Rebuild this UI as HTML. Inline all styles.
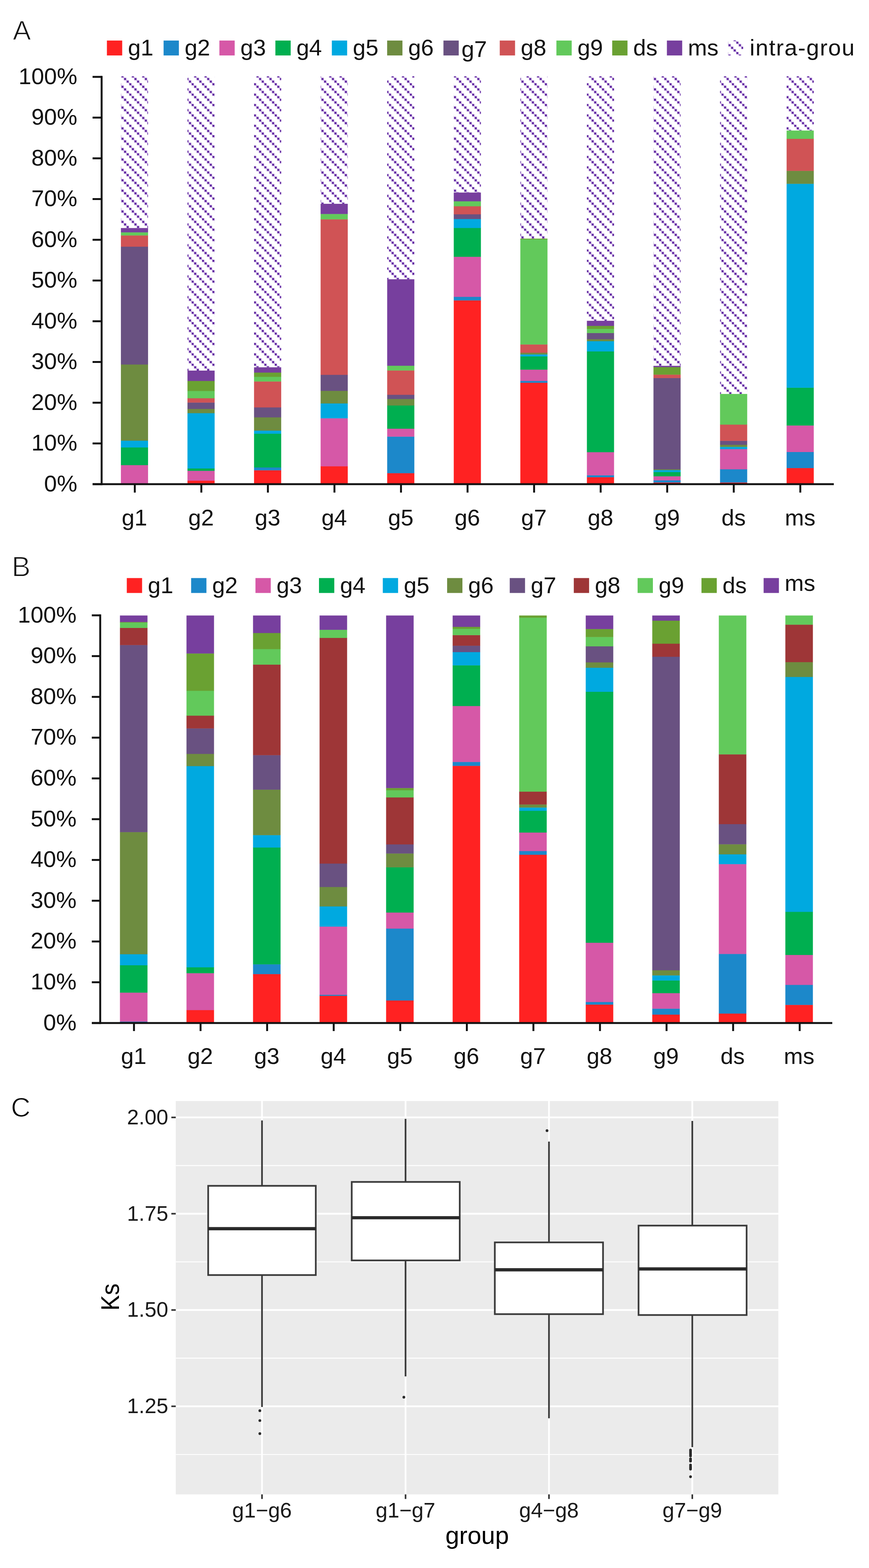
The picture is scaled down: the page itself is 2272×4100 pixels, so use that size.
<!DOCTYPE html><html><head><meta charset="utf-8"><title>Figure</title><style>html,body{margin:0;padding:0;background:#fff;width:2272px;height:4100px;overflow:hidden}svg{display:block}text{font-family:'Liberation Sans',Arial,sans-serif}</style></head><body>
<svg width="2272" height="4100" viewBox="0 0 2272 4100">
<defs><pattern id="h" patternUnits="userSpaceOnUse" width="27.164" height="27.164" x="11.75" y="0"><path d="M-3,-3 L30.164,30.164 M-30.164,-3 L3,30.164 M24.164,-3 L57.328,30.164" stroke="#CDB5E6" stroke-width="2.6" fill="none"/><rect x="-0.6" y="-0.6" width="7" height="7" fill="#C4A8E0"/><rect x="6.191" y="6.191" width="7" height="7" fill="#C4A8E0"/><rect x="12.982" y="12.982" width="7" height="7" fill="#C4A8E0"/><rect x="19.773" y="19.773" width="7" height="7" fill="#C4A8E0"/><rect x="26.564" y="26.564" width="7" height="7" fill="#C4A8E0"/><rect x="-7.391" y="-7.391" width="7" height="7" fill="#C4A8E0"/><rect x="0.5" y="0.5" width="4.8" height="4.8" fill="#5A1F9C"/><rect x="7.291" y="7.291" width="4.8" height="4.8" fill="#5A1F9C"/><rect x="14.082" y="14.082" width="4.8" height="4.8" fill="#5A1F9C"/><rect x="20.873" y="20.873" width="4.8" height="4.8" fill="#5A1F9C"/><rect x="27.664" y="27.664" width="4.8" height="4.8" fill="#5A1F9C"/><rect x="-6.291" y="-6.291" width="4.8" height="4.8" fill="#5A1F9C"/></pattern><pattern id="h2" patternUnits="userSpaceOnUse" width="27.164" height="27.164" x="23.34" y="0"><path d="M-3,-3 L30.164,30.164 M-30.164,-3 L3,30.164 M24.164,-3 L57.328,30.164" stroke="#CDB5E6" stroke-width="2.6" fill="none"/><rect x="-0.6" y="-0.6" width="7" height="7" fill="#C4A8E0"/><rect x="6.191" y="6.191" width="7" height="7" fill="#C4A8E0"/><rect x="12.982" y="12.982" width="7" height="7" fill="#C4A8E0"/><rect x="19.773" y="19.773" width="7" height="7" fill="#C4A8E0"/><rect x="26.564" y="26.564" width="7" height="7" fill="#C4A8E0"/><rect x="-7.391" y="-7.391" width="7" height="7" fill="#C4A8E0"/><rect x="0.5" y="0.5" width="4.8" height="4.8" fill="#5A1F9C"/><rect x="7.291" y="7.291" width="4.8" height="4.8" fill="#5A1F9C"/><rect x="14.082" y="14.082" width="4.8" height="4.8" fill="#5A1F9C"/><rect x="20.873" y="20.873" width="4.8" height="4.8" fill="#5A1F9C"/><rect x="27.664" y="27.664" width="4.8" height="4.8" fill="#5A1F9C"/><rect x="-6.291" y="-6.291" width="4.8" height="4.8" fill="#5A1F9C"/></pattern></defs>
<rect width="2272" height="4100" fill="#fff"/>
<rect x="316.1" y="199.5" width="71" height="396.8" fill="url(#h)"/>
<rect x="316.1" y="1215.9" width="71" height="50.5" fill="#D658A7"/>
<rect x="316.1" y="1169.7" width="71" height="46.6" fill="#00AF50"/>
<rect x="316.1" y="1152" width="71" height="18.1" fill="#00A9E0"/>
<rect x="316.1" y="952.8" width="71" height="199.6" fill="#6E8C40"/>
<rect x="316.1" y="644.7" width="71" height="308.5" fill="#695181"/>
<rect x="316.1" y="615.3" width="71" height="29.8" fill="#D05355"/>
<rect x="316.1" y="607.2" width="71" height="8.5" fill="#62C95B"/>
<rect x="316.1" y="596.3" width="71" height="11.3" fill="#773F9E"/>
<rect x="490.15" y="199.5" width="71" height="769.5" fill="url(#h)"/>
<rect x="490.15" y="1256.6" width="71" height="9.8" fill="#FF2222"/>
<rect x="490.15" y="1230.8" width="71" height="26.2" fill="#D658A7"/>
<rect x="490.15" y="1224.6" width="71" height="6.6" fill="#00AF50"/>
<rect x="490.15" y="1080" width="71" height="145" fill="#00A9E0"/>
<rect x="490.15" y="1069" width="71" height="11.4" fill="#6E8C40"/>
<rect x="490.15" y="1052.3" width="71" height="17.1" fill="#695181"/>
<rect x="490.15" y="1041" width="71" height="11.7" fill="#D05355"/>
<rect x="490.15" y="1022" width="71" height="19.4" fill="#62C95B"/>
<rect x="490.15" y="995.8" width="71" height="26.6" fill="#6AA132"/>
<rect x="490.15" y="969" width="71" height="27.2" fill="#773F9E"/>
<rect x="664.2" y="199.5" width="71" height="760.9" fill="url(#h)"/>
<rect x="664.2" y="1229.4" width="71" height="37" fill="#FF2222"/>
<rect x="664.2" y="1222" width="71" height="7.8" fill="#1C88CA"/>
<rect x="664.2" y="1133.8" width="71" height="88.6" fill="#00AF50"/>
<rect x="664.2" y="1125.7" width="71" height="8.5" fill="#00A9E0"/>
<rect x="664.2" y="1091" width="71" height="35.1" fill="#6E8C40"/>
<rect x="664.2" y="1065" width="71" height="26.4" fill="#695181"/>
<rect x="664.2" y="997.2" width="71" height="68.2" fill="#D05355"/>
<rect x="664.2" y="985" width="71" height="12.6" fill="#62C95B"/>
<rect x="664.2" y="973.9" width="71" height="11.5" fill="#6AA132"/>
<rect x="664.2" y="960.4" width="71" height="13.9" fill="#773F9E"/>
<rect x="838.25" y="199.5" width="71" height="333.4" fill="url(#h)"/>
<rect x="838.25" y="1219" width="71" height="47.4" fill="#FF2222"/>
<rect x="838.25" y="1093.4" width="71" height="126" fill="#D658A7"/>
<rect x="838.25" y="1054.6" width="71" height="39.2" fill="#00A9E0"/>
<rect x="838.25" y="1021.7" width="71" height="33.3" fill="#6E8C40"/>
<rect x="838.25" y="979.8" width="71" height="42.3" fill="#695181"/>
<rect x="838.25" y="573.2" width="71" height="407" fill="#D05355"/>
<rect x="838.25" y="559.2" width="71" height="14.4" fill="#62C95B"/>
<rect x="838.25" y="532.9" width="71" height="26.7" fill="#773F9E"/>
<rect x="1012.3" y="199.5" width="71" height="530.7" fill="url(#h)"/>
<rect x="1012.3" y="1237" width="71" height="29.4" fill="#FF2222"/>
<rect x="1012.3" y="1141.4" width="71" height="96" fill="#1C88CA"/>
<rect x="1012.3" y="1120.6" width="71" height="21.2" fill="#D658A7"/>
<rect x="1012.3" y="1060" width="71" height="61" fill="#00AF50"/>
<rect x="1012.3" y="1043" width="71" height="17.4" fill="#6E8C40"/>
<rect x="1012.3" y="1032" width="71" height="11.4" fill="#695181"/>
<rect x="1012.3" y="968.4" width="71" height="64" fill="#D05355"/>
<rect x="1012.3" y="956" width="71" height="12.8" fill="#62C95B"/>
<rect x="1012.3" y="730.2" width="71" height="226.2" fill="#773F9E"/>
<rect x="1186.35" y="199.5" width="71" height="304" fill="url(#h)"/>
<rect x="1186.35" y="785.2" width="71" height="481.2" fill="#FF2222"/>
<rect x="1186.35" y="775.9" width="71" height="9.7" fill="#1C88CA"/>
<rect x="1186.35" y="671.2" width="71" height="105.1" fill="#D658A7"/>
<rect x="1186.35" y="595.8" width="71" height="75.8" fill="#00AF50"/>
<rect x="1186.35" y="572.5" width="71" height="23.7" fill="#00A9E0"/>
<rect x="1186.35" y="560" width="71" height="12.9" fill="#695181"/>
<rect x="1186.35" y="539" width="71" height="21.4" fill="#D05355"/>
<rect x="1186.35" y="526" width="71" height="13.4" fill="#62C95B"/>
<rect x="1186.35" y="503.5" width="71" height="22.9" fill="#773F9E"/>
<rect x="1360.4" y="199.5" width="71" height="424.4" fill="url(#h)"/>
<rect x="1360.4" y="1000.5" width="71" height="265.9" fill="#FF2222"/>
<rect x="1360.4" y="995.8" width="71" height="5.1" fill="#1C88CA"/>
<rect x="1360.4" y="966.2" width="71" height="30" fill="#D658A7"/>
<rect x="1360.4" y="931.6" width="71" height="35" fill="#00AF50"/>
<rect x="1360.4" y="926.4" width="71" height="5.6" fill="#00A9E0"/>
<rect x="1360.4" y="922" width="71" height="4.8" fill="#6E8C40"/>
<rect x="1360.4" y="900.4" width="71" height="22" fill="#D05355"/>
<rect x="1360.4" y="625.5" width="71" height="275.3" fill="#62C95B"/>
<rect x="1360.4" y="623.9" width="71" height="2" fill="#6AA132"/>
<rect x="1534.45" y="199.5" width="71" height="639.3" fill="url(#h)"/>
<rect x="1534.45" y="1247.6" width="71" height="18.8" fill="#FF2222"/>
<rect x="1534.45" y="1242.4" width="71" height="5.6" fill="#1C88CA"/>
<rect x="1534.45" y="1182" width="71" height="60.8" fill="#D658A7"/>
<rect x="1534.45" y="918.6" width="71" height="263.8" fill="#00AF50"/>
<rect x="1534.45" y="891.8" width="71" height="27.2" fill="#00A9E0"/>
<rect x="1534.45" y="886.6" width="71" height="5.6" fill="#6E8C40"/>
<rect x="1534.45" y="870.5" width="71" height="16.5" fill="#695181"/>
<rect x="1534.45" y="859.6" width="71" height="11.3" fill="#62C95B"/>
<rect x="1534.45" y="851.8" width="71" height="8.2" fill="#6AA132"/>
<rect x="1534.45" y="838.8" width="71" height="13.4" fill="#773F9E"/>
<rect x="1708.5" y="199.5" width="71" height="757.1" fill="url(#h)"/>
<rect x="1708.5" y="1261.4" width="71" height="5" fill="#FF2222"/>
<rect x="1708.5" y="1255.7" width="71" height="6.1" fill="#1C88CA"/>
<rect x="1708.5" y="1245.1" width="71" height="11" fill="#D658A7"/>
<rect x="1708.5" y="1234" width="71" height="11.5" fill="#00AF50"/>
<rect x="1708.5" y="1228.9" width="71" height="5.5" fill="#00A9E0"/>
<rect x="1708.5" y="1226.8" width="71" height="2.5" fill="#6E8C40"/>
<rect x="1708.5" y="988.1" width="71" height="239.1" fill="#695181"/>
<rect x="1708.5" y="979.3" width="71" height="9.2" fill="#D05355"/>
<rect x="1708.5" y="959.6" width="71" height="20.1" fill="#6AA132"/>
<rect x="1708.5" y="956.6" width="71" height="3.4" fill="#773F9E"/>
<rect x="1882.55" y="199.5" width="71" height="830.6" fill="url(#h)"/>
<rect x="1882.55" y="1261.4" width="71" height="5" fill="#FF2222"/>
<rect x="1882.55" y="1226.8" width="71" height="35" fill="#1C88CA"/>
<rect x="1882.55" y="1174" width="71" height="53.2" fill="#D658A7"/>
<rect x="1882.55" y="1168.3" width="71" height="6.1" fill="#00A9E0"/>
<rect x="1882.55" y="1162.8" width="71" height="5.9" fill="#6E8C40"/>
<rect x="1882.55" y="1152.3" width="71" height="10.9" fill="#695181"/>
<rect x="1882.55" y="1110" width="71" height="42.7" fill="#D05355"/>
<rect x="1882.55" y="1030.1" width="71" height="80.3" fill="#62C95B"/>
<rect x="2056.6" y="199.5" width="71" height="141.9" fill="url(#h)"/>
<rect x="2056.6" y="1223.6" width="71" height="42.8" fill="#FF2222"/>
<rect x="2056.6" y="1181.6" width="71" height="42.4" fill="#1C88CA"/>
<rect x="2056.6" y="1112.3" width="71" height="69.7" fill="#D658A7"/>
<rect x="2056.6" y="1013.5" width="71" height="99.2" fill="#00AF50"/>
<rect x="2056.6" y="480.3" width="71" height="533.6" fill="#00A9E0"/>
<rect x="2056.6" y="446.4" width="71" height="34.3" fill="#6E8C40"/>
<rect x="2056.6" y="362.7" width="71" height="84.1" fill="#D05355"/>
<rect x="2056.6" y="341.4" width="71" height="21.7" fill="#62C95B"/>
<g fill="#111">
<rect x="263.2" y="198.5" width="5" height="1070"/>
<rect x="242" y="1263.5" width="24" height="5"/>
<rect x="242" y="1157" width="24" height="5"/>
<rect x="242" y="1050.5" width="24" height="5"/>
<rect x="242" y="944" width="24" height="5"/>
<rect x="242" y="837.5" width="24" height="5"/>
<rect x="242" y="731" width="24" height="5"/>
<rect x="242" y="624.5" width="24" height="5"/>
<rect x="242" y="518" width="24" height="5"/>
<rect x="242" y="411.5" width="24" height="5"/>
<rect x="242" y="305" width="24" height="5"/>
<rect x="242" y="198.5" width="24" height="5"/>
<rect x="242" y="1263.5" width="1938" height="5"/>
<rect x="349.9" y="1266" width="5" height="22"/>
<rect x="523.9" y="1266" width="5" height="22"/>
<rect x="697.9" y="1266" width="5" height="22"/>
<rect x="871.9" y="1266" width="5" height="22"/>
<rect x="1045.9" y="1266" width="5" height="22"/>
<rect x="1219.9" y="1266" width="5" height="22"/>
<rect x="1393.9" y="1266" width="5" height="22"/>
<rect x="1567.9" y="1266" width="5" height="22"/>
<rect x="1741.9" y="1266" width="5" height="22"/>
<rect x="1915.9" y="1266" width="5" height="22"/>
<rect x="2089.9" y="1266" width="5" height="22"/>
</g>
<g font-size="60" fill="#111" text-anchor="end">
<text x="202" y="1284.5">0%</text>
<text x="202" y="1178">10%</text>
<text x="202" y="1071.5">20%</text>
<text x="202" y="965">30%</text>
<text x="202" y="858.5">40%</text>
<text x="202" y="752">50%</text>
<text x="202" y="645.5">60%</text>
<text x="202" y="539">70%</text>
<text x="202" y="432.5">80%</text>
<text x="202" y="326">90%</text>
<text x="202" y="219.5">100%</text>
</g>
<g font-size="60" fill="#111" text-anchor="middle">
<text x="351.6" y="1374">g1</text>
<text x="525.65" y="1374">g2</text>
<text x="699.7" y="1374">g3</text>
<text x="873.75" y="1374">g4</text>
<text x="1047.8" y="1374">g5</text>
<text x="1221.85" y="1374">g6</text>
<text x="1395.9" y="1374">g7</text>
<text x="1569.95" y="1374">g8</text>
<text x="1744" y="1374">g9</text>
<text x="1918.05" y="1374">ds</text>
<text x="2092.1" y="1374">ms</text>
</g>
<text x="33.5" y="103.6" font-size="71" fill="#111" stroke="#fff" stroke-width="1.6">A</text>
<g font-size="60" fill="#111">
<rect x="279.5" y="106" width="40" height="39" fill="#FF2222"/>
<text x="334.5" y="145">g1</text>
<rect x="427.7" y="106" width="40" height="39" fill="#1C88CA"/>
<text x="482.7" y="145">g2</text>
<rect x="573.6" y="106" width="40" height="39" fill="#D658A7"/>
<text x="628.6" y="145">g3</text>
<rect x="720" y="106" width="40" height="39" fill="#00AF50"/>
<text x="775" y="145">g4</text>
<rect x="867.6" y="106" width="40" height="39" fill="#00A9E0"/>
<text x="922.6" y="145">g5</text>
<rect x="1012.2" y="106" width="40" height="39" fill="#6E8C40"/>
<text x="1067.2" y="145">g6</text>
<rect x="1159.4" y="106" width="40" height="39" fill="#695181"/>
<text x="1206.4" y="149">g7</text>
<rect x="1306.6" y="106" width="40" height="39" fill="#D05355"/>
<text x="1361.6" y="145">g8</text>
<rect x="1454.7" y="106" width="40" height="39" fill="#62C95B"/>
<text x="1509.7" y="145">g9</text>
<rect x="1600.6" y="106" width="40" height="39" fill="#6AA132"/>
<text x="1655.6" y="145">ds</text>
<rect x="1743.6" y="106" width="40" height="39" fill="#773F9E"/>
<text x="1798.6" y="145">ms</text>
<rect x="1903.5" y="105.5" width="39.5" height="39.5" fill="url(#h2)"/>
<text x="1960" y="145" textLength="274" lengthAdjust="spacing">intra-grou</text>
</g>
<rect x="313.6" y="2671" width="72" height="4.4" fill="#1C88CA"/>
<rect x="313.6" y="2595.2" width="72" height="76.2" fill="#D658A7"/>
<rect x="313.6" y="2523.6" width="72" height="72" fill="#00AF50"/>
<rect x="313.6" y="2494.8" width="72" height="29.2" fill="#00A9E0"/>
<rect x="313.6" y="2175.5" width="72" height="319.7" fill="#6E8C40"/>
<rect x="313.6" y="1686.4" width="72" height="489.5" fill="#695181"/>
<rect x="313.6" y="1641.5" width="72" height="45.3" fill="#9E3637"/>
<rect x="313.6" y="1627.7" width="72" height="14.2" fill="#62C95B"/>
<rect x="313.6" y="1626.2" width="72" height="1.9" fill="#6AA132"/>
<rect x="313.6" y="1609.4" width="72" height="17.2" fill="#773F9E"/>
<rect x="487.57" y="2640.9" width="72" height="34.5" fill="#FF2222"/>
<rect x="487.57" y="2544.4" width="72" height="96.9" fill="#D658A7"/>
<rect x="487.57" y="2529" width="72" height="15.8" fill="#00AF50"/>
<rect x="487.57" y="2002.9" width="72" height="526.5" fill="#00A9E0"/>
<rect x="487.57" y="1971" width="72" height="32.3" fill="#6E8C40"/>
<rect x="487.57" y="1904.3" width="72" height="67.1" fill="#695181"/>
<rect x="487.57" y="1871" width="72" height="33.7" fill="#9E3637"/>
<rect x="487.57" y="1806" width="72" height="65.4" fill="#62C95B"/>
<rect x="487.57" y="1708.4" width="72" height="98" fill="#6AA132"/>
<rect x="487.57" y="1609.4" width="72" height="99.4" fill="#773F9E"/>
<rect x="661.54" y="2546.8" width="72" height="128.6" fill="#FF2222"/>
<rect x="661.54" y="2521.2" width="72" height="26" fill="#1C88CA"/>
<rect x="661.54" y="2215.8" width="72" height="305.8" fill="#00AF50"/>
<rect x="661.54" y="2183.4" width="72" height="32.8" fill="#00A9E0"/>
<rect x="661.54" y="2064.5" width="72" height="119.3" fill="#6E8C40"/>
<rect x="661.54" y="1974.3" width="72" height="90.6" fill="#695181"/>
<rect x="661.54" y="1737.6" width="72" height="237.1" fill="#9E3637"/>
<rect x="661.54" y="1696.9" width="72" height="41.1" fill="#62C95B"/>
<rect x="661.54" y="1654.9" width="72" height="42.4" fill="#6AA132"/>
<rect x="661.54" y="1609.4" width="72" height="45.9" fill="#773F9E"/>
<rect x="835.51" y="2603.6" width="72" height="71.8" fill="#FF2222"/>
<rect x="835.51" y="2600.9" width="72" height="3.1" fill="#1C88CA"/>
<rect x="835.51" y="2422.5" width="72" height="178.8" fill="#D658A7"/>
<rect x="835.51" y="2369.8" width="72" height="53.1" fill="#00A9E0"/>
<rect x="835.51" y="2319" width="72" height="51.2" fill="#6E8C40"/>
<rect x="835.51" y="2257.7" width="72" height="61.7" fill="#695181"/>
<rect x="835.51" y="1667.7" width="72" height="590.4" fill="#9E3637"/>
<rect x="835.51" y="1646.5" width="72" height="21.6" fill="#62C95B"/>
<rect x="835.51" y="1609.4" width="72" height="37.5" fill="#773F9E"/>
<rect x="1009.48" y="2615.8" width="72" height="59.6" fill="#FF2222"/>
<rect x="1009.48" y="2427.8" width="72" height="188.4" fill="#1C88CA"/>
<rect x="1009.48" y="2385.8" width="72" height="42.4" fill="#D658A7"/>
<rect x="1009.48" y="2267.5" width="72" height="118.7" fill="#00AF50"/>
<rect x="1009.48" y="2231.4" width="72" height="36.5" fill="#6E8C40"/>
<rect x="1009.48" y="2207.6" width="72" height="24.2" fill="#695181"/>
<rect x="1009.48" y="2084.8" width="72" height="123.2" fill="#9E3637"/>
<rect x="1009.48" y="2066" width="72" height="19.2" fill="#62C95B"/>
<rect x="1009.48" y="2060.3" width="72" height="6.1" fill="#6AA132"/>
<rect x="1009.48" y="1609.4" width="72" height="451.3" fill="#773F9E"/>
<rect x="1183.45" y="2002.2" width="72" height="673.2" fill="#FF2222"/>
<rect x="1183.45" y="1992.1" width="72" height="10.5" fill="#1C88CA"/>
<rect x="1183.45" y="1845.8" width="72" height="146.7" fill="#D658A7"/>
<rect x="1183.45" y="1739.4" width="72" height="106.8" fill="#00AF50"/>
<rect x="1183.45" y="1704.8" width="72" height="35" fill="#00A9E0"/>
<rect x="1183.45" y="1688.1" width="72" height="17.1" fill="#695181"/>
<rect x="1183.45" y="1660.4" width="72" height="28.1" fill="#9E3637"/>
<rect x="1183.45" y="1644" width="72" height="16.8" fill="#62C95B"/>
<rect x="1183.45" y="1638.8" width="72" height="5.6" fill="#6AA132"/>
<rect x="1183.45" y="1609.4" width="72" height="29.8" fill="#773F9E"/>
<rect x="1357.42" y="2234.7" width="72" height="440.7" fill="#FF2222"/>
<rect x="1357.42" y="2225" width="72" height="10.1" fill="#1C88CA"/>
<rect x="1357.42" y="2176.6" width="72" height="48.8" fill="#D658A7"/>
<rect x="1357.42" y="2119.8" width="72" height="57.2" fill="#00AF50"/>
<rect x="1357.42" y="2111.3" width="72" height="8.9" fill="#00A9E0"/>
<rect x="1357.42" y="2103.2" width="72" height="8.5" fill="#6E8C40"/>
<rect x="1357.42" y="2069.7" width="72" height="33.9" fill="#9E3637"/>
<rect x="1357.42" y="1614.7" width="72" height="455.4" fill="#62C95B"/>
<rect x="1357.42" y="1609.4" width="72" height="5.7" fill="#6AA132"/>
<rect x="1531.39" y="2626.5" width="72" height="48.9" fill="#FF2222"/>
<rect x="1531.39" y="2619.7" width="72" height="7.2" fill="#1C88CA"/>
<rect x="1531.39" y="2464.8" width="72" height="155.3" fill="#D658A7"/>
<rect x="1531.39" y="1808.6" width="72" height="656.6" fill="#00AF50"/>
<rect x="1531.39" y="1745.7" width="72" height="63.3" fill="#00A9E0"/>
<rect x="1531.39" y="1731.7" width="72" height="14.4" fill="#6E8C40"/>
<rect x="1531.39" y="1689.7" width="72" height="42.4" fill="#695181"/>
<rect x="1531.39" y="1665.4" width="72" height="24.7" fill="#62C95B"/>
<rect x="1531.39" y="1644.5" width="72" height="21.3" fill="#6AA132"/>
<rect x="1531.39" y="1609.4" width="72" height="35.5" fill="#773F9E"/>
<rect x="1705.36" y="2652.7" width="72" height="22.7" fill="#FF2222"/>
<rect x="1705.36" y="2637.2" width="72" height="15.9" fill="#1C88CA"/>
<rect x="1705.36" y="2596.6" width="72" height="41" fill="#D658A7"/>
<rect x="1705.36" y="2563.5" width="72" height="33.5" fill="#00AF50"/>
<rect x="1705.36" y="2550.2" width="72" height="13.7" fill="#00A9E0"/>
<rect x="1705.36" y="2536.8" width="72" height="13.8" fill="#6E8C40"/>
<rect x="1705.36" y="1717" width="72" height="820.2" fill="#695181"/>
<rect x="1705.36" y="1682.8" width="72" height="34.6" fill="#9E3637"/>
<rect x="1705.36" y="1622.6" width="72" height="60.6" fill="#6AA132"/>
<rect x="1705.36" y="1609.4" width="72" height="13.6" fill="#773F9E"/>
<rect x="1879.33" y="2650" width="72" height="25.4" fill="#FF2222"/>
<rect x="1879.33" y="2494.1" width="72" height="156.3" fill="#1C88CA"/>
<rect x="1879.33" y="2259.2" width="72" height="235.3" fill="#D658A7"/>
<rect x="1879.33" y="2233.6" width="72" height="26" fill="#00A9E0"/>
<rect x="1879.33" y="2207.3" width="72" height="26.7" fill="#6E8C40"/>
<rect x="1879.33" y="2154.6" width="72" height="53.1" fill="#695181"/>
<rect x="1879.33" y="1972.2" width="72" height="182.8" fill="#9E3637"/>
<rect x="1879.33" y="1609.4" width="72" height="363.2" fill="#62C95B"/>
<rect x="2053.3" y="2627.3" width="72" height="48.1" fill="#FF2222"/>
<rect x="2053.3" y="2575" width="72" height="52.7" fill="#1C88CA"/>
<rect x="2053.3" y="2496.7" width="72" height="78.7" fill="#D658A7"/>
<rect x="2053.3" y="2384" width="72" height="113.1" fill="#00AF50"/>
<rect x="2053.3" y="1769.8" width="72" height="614.6" fill="#00A9E0"/>
<rect x="2053.3" y="1731" width="72" height="39.2" fill="#6E8C40"/>
<rect x="2053.3" y="1633.1" width="72" height="98.3" fill="#9E3637"/>
<rect x="2053.3" y="1609.4" width="72" height="24.1" fill="#62C95B"/>
<g fill="#111">
<rect x="259.5" y="1606.5" width="5" height="1071"/>
<rect x="240" y="2672.5" width="22" height="5"/>
<rect x="240" y="2565.9" width="22" height="5"/>
<rect x="240" y="2459.3" width="22" height="5"/>
<rect x="240" y="2352.7" width="22" height="5"/>
<rect x="240" y="2246.1" width="22" height="5"/>
<rect x="240" y="2139.5" width="22" height="5"/>
<rect x="240" y="2032.9" width="22" height="5"/>
<rect x="240" y="1926.3" width="22" height="5"/>
<rect x="240" y="1819.7" width="22" height="5"/>
<rect x="240" y="1713.1" width="22" height="5"/>
<rect x="240" y="1606.5" width="22" height="5"/>
<rect x="240" y="2672.5" width="1936" height="5"/>
<rect x="347.8" y="2675" width="5" height="21"/>
<rect x="521.85" y="2675" width="5" height="21"/>
<rect x="695.9" y="2675" width="5" height="21"/>
<rect x="869.95" y="2675" width="5" height="21"/>
<rect x="1044" y="2675" width="5" height="21"/>
<rect x="1218.05" y="2675" width="5" height="21"/>
<rect x="1392.1" y="2675" width="5" height="21"/>
<rect x="1566.15" y="2675" width="5" height="21"/>
<rect x="1740.2" y="2675" width="5" height="21"/>
<rect x="1914.25" y="2675" width="5" height="21"/>
<rect x="2088.3" y="2675" width="5" height="21"/>
</g>
<g font-size="60" fill="#111" text-anchor="end">
<text x="200" y="2693.5">0%</text>
<text x="200" y="2586.9">10%</text>
<text x="200" y="2480.3">20%</text>
<text x="200" y="2373.7">30%</text>
<text x="200" y="2267.1">40%</text>
<text x="200" y="2160.5">50%</text>
<text x="200" y="2053.9">60%</text>
<text x="200" y="1947.3">70%</text>
<text x="200" y="1840.7">80%</text>
<text x="200" y="1734.1">90%</text>
<text x="200" y="1627.5">100%</text>
</g>
<g font-size="60" fill="#111" text-anchor="middle">
<text x="349.6" y="2782">g1</text>
<text x="523.57" y="2782">g2</text>
<text x="697.54" y="2782">g3</text>
<text x="871.51" y="2782">g4</text>
<text x="1045.48" y="2782">g5</text>
<text x="1219.45" y="2782">g6</text>
<text x="1393.42" y="2782">g7</text>
<text x="1567.39" y="2782">g8</text>
<text x="1741.36" y="2782">g9</text>
<text x="1915.33" y="2782">ds</text>
<text x="2089.3" y="2782">ms</text>
</g>
<text x="30.5" y="1506.6" font-size="74" fill="#111" stroke="#fff" stroke-width="1.8">B</text>
<g font-size="60" fill="#111">
<rect x="331.5" y="1511.5" width="40" height="39" fill="#FF2222"/>
<text x="386.5" y="1550.5">g1</text>
<rect x="499.7" y="1511.5" width="40" height="39" fill="#1C88CA"/>
<text x="554.7" y="1550.5">g2</text>
<rect x="667.9" y="1511.5" width="40" height="39" fill="#D658A7"/>
<text x="722.9" y="1550.5">g3</text>
<rect x="834" y="1511.5" width="40" height="39" fill="#00AF50"/>
<text x="889" y="1550.5">g4</text>
<rect x="1000.8" y="1511.5" width="40" height="39" fill="#00A9E0"/>
<text x="1055.8" y="1550.5">g5</text>
<rect x="1169" y="1511.5" width="40" height="39" fill="#6E8C40"/>
<text x="1224" y="1550.5">g6</text>
<rect x="1332.7" y="1511.5" width="40" height="39" fill="#695181"/>
<text x="1387.7" y="1550.5">g7</text>
<rect x="1500.2" y="1511.5" width="40" height="39" fill="#9E3637"/>
<text x="1555.2" y="1550.5">g8</text>
<rect x="1667" y="1511.5" width="40" height="39" fill="#62C95B"/>
<text x="1722" y="1550.5">g9</text>
<rect x="1834" y="1511.5" width="40" height="39" fill="#6AA132"/>
<text x="1889" y="1550.5">ds</text>
<rect x="1996.5" y="1511.5" width="40" height="39" fill="#773F9E"/>
<text x="2051.5" y="1544.5">ms</text>
</g>
<rect x="459.5" y="2879" width="1575.5" height="1028.5" fill="#EBEBEB"/>
<g stroke="#fff" fill="none">
<line x1="459.5" x2="2035" y1="3803.1" y2="3803.1" stroke-width="2.4"/>
<line x1="459.5" x2="2035" y1="3551.3" y2="3551.3" stroke-width="2.4"/>
<line x1="459.5" x2="2035" y1="3299.5" y2="3299.5" stroke-width="2.4"/>
<line x1="459.5" x2="2035" y1="3047.7" y2="3047.7" stroke-width="2.4"/>
<line x1="459.5" x2="2035" y1="3677.2" y2="3677.2" stroke-width="4.6"/>
<line x1="459.5" x2="2035" y1="3425.4" y2="3425.4" stroke-width="4.6"/>
<line x1="459.5" x2="2035" y1="3173.6" y2="3173.6" stroke-width="4.6"/>
<line x1="459.5" x2="2035" y1="2921.8" y2="2921.8" stroke-width="4.6"/>
<line x1="685" x2="685" y1="2879" y2="3907.5" stroke-width="4.6"/>
<line x1="1060.3" x2="1060.3" y1="2879" y2="3907.5" stroke-width="4.6"/>
<line x1="1435.3" x2="1435.3" y1="2879" y2="3907.5" stroke-width="4.6"/>
<line x1="1810" x2="1810" y1="2879" y2="3907.5" stroke-width="4.6"/>
</g>
<g stroke="#3a3a3a" stroke-width="4.4">
<line x1="685" x2="685" y1="2929.7" y2="3100.7"/>
<line x1="685" x2="685" y1="3334" y2="3679"/>
<rect x="544.3" y="3100.7" width="281.3" height="233.3" fill="#fff"/>
<line x1="544.3" x2="825.6" y1="3212.8" y2="3212.8" stroke="#2a2a2a" stroke-width="8.4"/>
<line x1="1060.3" x2="1060.3" y1="2925.6" y2="3090.5"/>
<line x1="1060.3" x2="1060.3" y1="3295.7" y2="3599.1"/>
<rect x="919.6" y="3090.5" width="282.4" height="205.2" fill="#fff"/>
<line x1="919.6" x2="1202" y1="3184.1" y2="3184.1" stroke="#2a2a2a" stroke-width="8.4"/>
<line x1="1435.3" x2="1435.3" y1="2985" y2="3248.6"/>
<line x1="1435.3" x2="1435.3" y1="3436.2" y2="3708.5"/>
<rect x="1293.7" y="3248.6" width="282.9" height="187.6" fill="#fff"/>
<line x1="1293.7" x2="1576.6" y1="3320.3" y2="3320.3" stroke="#2a2a2a" stroke-width="8.4"/>
<line x1="1810" x2="1810" y1="2931" y2="3204.7"/>
<line x1="1810" x2="1810" y1="3438.5" y2="3784"/>
<rect x="1669.5" y="3204.7" width="282.5" height="233.8" fill="#fff"/>
<line x1="1669.5" x2="1952" y1="3318" y2="3318" stroke="#2a2a2a" stroke-width="8.4"/>
</g>
<g fill="#2a2a2a">
<circle cx="679.4" cy="3688.7" r="3.6"/>
<circle cx="679.4" cy="3714.5" r="3.6"/>
<circle cx="679.4" cy="3748.6" r="3.6"/>
<circle cx="1055.9" cy="3653.4" r="3.6"/>
<circle cx="1430.2" cy="2956.4" r="3.6"/>
<circle cx="1805.4" cy="3791.5" r="3.6"/>
<circle cx="1805.4" cy="3795" r="3.6"/>
<circle cx="1805.4" cy="3799" r="3.6"/>
<circle cx="1805.4" cy="3803" r="3.6"/>
<circle cx="1805.4" cy="3807" r="3.6"/>
<circle cx="1805.4" cy="3814.5" r="3.6"/>
<circle cx="1805.4" cy="3818" r="3.6"/>
<circle cx="1805.4" cy="3820.5" r="3.6"/>
<circle cx="1805.4" cy="3830.8" r="3.6"/>
<circle cx="1805.4" cy="3835" r="3.6"/>
<circle cx="1805.4" cy="3838" r="3.6"/>
<circle cx="1805.4" cy="3841.3" r="3.6"/>
<circle cx="1805.4" cy="3861.3" r="3.6"/>
</g>
<g stroke="#333" stroke-width="4.2">
<line x1="448" x2="459.5" y1="3677.2" y2="3677.2"/>
<line x1="448" x2="459.5" y1="3425.4" y2="3425.4"/>
<line x1="448" x2="459.5" y1="3173.6" y2="3173.6"/>
<line x1="448" x2="459.5" y1="2921.8" y2="2921.8"/>
<line x1="685" x2="685" y1="3907.5" y2="3919.5"/>
<line x1="1060.3" x2="1060.3" y1="3907.5" y2="3919.5"/>
<line x1="1435.3" x2="1435.3" y1="3907.5" y2="3919.5"/>
<line x1="1810" x2="1810" y1="3907.5" y2="3919.5"/>
</g>
<g font-size="55.5" fill="#1a1a1a" text-anchor="end">
<text x="440" y="3695.2">1.25</text>
<text x="440" y="3443.4">1.50</text>
<text x="440" y="3191.6">1.75</text>
<text x="440" y="2939.8">2.00</text>
</g>
<g font-size="55.5" fill="#1a1a1a" text-anchor="middle">
<text x="685" y="3968">g1−g6</text>
<text x="1060.3" y="3968">g1−g7</text>
<text x="1435.3" y="3968">g4−g8</text>
<text x="1810" y="3968">g7−g9</text>
</g>
<text x="1247.5" y="4036.5" font-size="65" fill="#000" text-anchor="middle">group</text>
<text transform="translate(310.5,3391.6) rotate(-90)" font-size="67" fill="#000" text-anchor="middle" textLength="71" lengthAdjust="spacingAndGlyphs">Ks</text>
<text x="28.5" y="2919.6" font-size="71" fill="#000" stroke="#fff" stroke-width="1.6">C</text>
</svg></body></html>
